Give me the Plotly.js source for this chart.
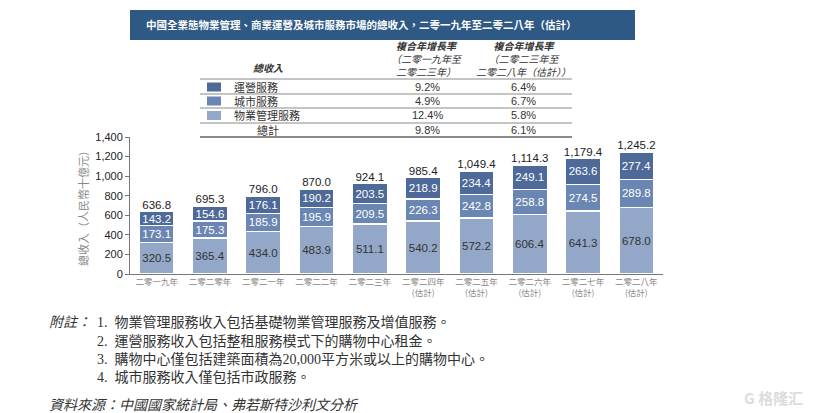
<!DOCTYPE html>
<html><head><meta charset="utf-8">
<script src="https://cdn.plot.ly/plotly-3.0.1.min.js"></script>
<style>body{margin:0;background:#fff}#c{width:831px;height:413px}</style>
</head><body><div id="c"></div>
<script>
const categories = ['二零一九年','二零二零年','二零二一年','二零二二年','二零二三年','二零二四年<br>(估計)','二零二五年<br>(估計)','二零二六年<br>(估計)','二零二七年<br>(估計)','二零二八年<br>(估計)'];
const propertyMgmt = [320.5,365.4,434.0,483.9,511.1,540.2,572.2,606.4,641.3,678.0];
const cityServices = [173.1,175.3,185.9,195.9,209.5,226.3,242.8,258.8,274.5,289.8];
const operations   = [143.2,154.6,176.1,190.2,203.5,218.9,234.4,249.1,263.6,277.4];
const totals       = [636.8,695.3,796.0,870.0,924.1,985.4,1049.4,1114.3,1179.4,1245.2];
const seriesNames  = ['運營服務','城市服務','物業管理服務','總計'];
const cagr1 = ['9.2%','4.9%','12.4%','9.8%'];
const cagr2 = ['6.4%','6.7%','5.8%','6.1%'];
const notes = ['1.  物業管理服務收入包括基礎物業管理服務及增值服務。','2.  運營服務收入包括整租服務模式下的購物中心租金。','3.  購物中心僅包括建築面積為20,000平方米或以上的購物中心。','4.  城市服務收入僅包括市政服務。'];

const C_TOP='#4d6a98', C_MID='#6a86b2', C_BOT='#93a8c8';
const PL=130, PR=663, PT=137, PB=274;
const px = x => (x-PL)/(PR-PL);
const py = y => (PB-y)/(PB-PT);
const SERIF = 'Liberation Serif, Noto Sans CJK TC';
const SANS = 'Liberation Sans, Arial, sans-serif';

const barCommon = {type:'bar', x:categories, textposition:'inside', insidetextanchor:'middle', textangle:0, constraintext:'none',
  texttemplate:'%{y:.1f}', hoverinfo:'none', showlegend:false, cliponaxis:false};
const traces = [
  Object.assign({}, barCommon, {name:seriesNames[2], y:propertyMgmt, marker:{color:C_BOT,line:{color:'#fff',width:1.5}}, textfont:{family:SANS,size:11.5,color:'#333'}}),
  Object.assign({}, barCommon, {name:seriesNames[1], y:cityServices, marker:{color:C_MID,line:{color:'#fff',width:1.5}}, textfont:{family:SANS,size:11.5,color:'#fff'}}),
  Object.assign({}, barCommon, {name:seriesNames[0], y:operations, marker:{color:C_TOP,line:{color:'#fff',width:1.5}}, textfont:{family:SANS,size:11.5,color:'#fff'}}),
  {type:'scatter', mode:'text', x:categories, y:totals, texttemplate:'%{y:,.1f}', textposition:'top center',
   textfont:{family:SANS,size:11.5,color:'#222'}, hoverinfo:'none', showlegend:false, cliponaxis:false}
];

const shapes = [], ann = [];
const A = (o) => ann.push(Object.assign({xref:'paper', yref:'paper', showarrow:false, xanchor:'center', yanchor:'middle'}, o));
// title bar
shapes.push({type:'rect', xref:'paper', yref:'paper', x0:px(130), x1:px(635), y0:py(40), y1:py(10), fillcolor:'#2e5984', line:{width:0}, layer:'below'});
A({x:px(144), y:py(25), xanchor:'left',
  text:'<b>中國全業態物業管理、商業運營及城市服務市場的總收入，二零一九年至二零二八年（估計）</b>', font:{family:SERIF,size:10.5,color:'#fff'}});
// table
const tl=200, tr=572;
[[79,1],[94,1],[108,1],[123,1],[137,2]].forEach(([y,w])=>shapes.push({type:'line',xref:'paper',yref:'paper',x0:px(tl),x1:px(tr),y0:py(y),y1:py(y),line:{color:'#8a8a8a',width:w}}));
A({x:px(268),y:py(69),text:'<b><i>總收入</i></b>',font:{family:SERIF,size:10,color:'#333'}});
A({x:px(427),y:py(59),text:'<b><i>複合年增長率</i></b><br><i>（二零一九年至<br>二零二三年）</i>',font:{family:SERIF,size:10,color:'#333'}});
A({x:px(523),y:py(59),text:'<b><i>複合年增長率</i></b><br><i>（二零二三年至<br>二零二八年（估計））</i>',font:{family:SERIF,size:10,color:'#333'}});
const rowY=[87,101,115.5,130], sw=[C_TOP,C_MID,C_BOT];
for(let i=0;i<4;i++){
  if(i<3){
    shapes.push({type:'rect',xref:'paper',yref:'paper',x0:px(207),x1:px(221),y0:py(rowY[i]+4.5),y1:py(rowY[i]-4.5),fillcolor:sw[i],line:{width:0}});
    A({x:px(232),y:py(rowY[i]),xanchor:'left',text:seriesNames[i],font:{family:SERIF,size:11,color:'#333'}});
  } else {
    A({x:px(268),y:py(rowY[i]),text:seriesNames[i],font:{family:SERIF,size:11,color:'#333'}});
  }
  A({x:px(427),y:py(rowY[i]),text:cagr1[i],font:{family:SANS,size:11,color:'#333'}});
  A({x:px(523),y:py(rowY[i]),text:cagr2[i],font:{family:SANS,size:11,color:'#333'}});
}
// notes
A({x:px(47),y:py(322),xanchor:'left',text:'<i>附註：</i>',font:{family:SERIF,size:14,color:'#333'}});
const noteY=[322,341,359,377];
notes.forEach((t,i)=>A({x:px(95),y:py(noteY[i]),xanchor:'left',text:t,font:{family:SERIF,size:14,color:'#333'}}));
A({x:px(47),y:py(405),xanchor:'left',text:'<i>資料來源：中國國家統計局、弗若斯特沙利文分析</i>',font:{family:SERIF,size:14,color:'#333'}});
// watermark
A({x:px(805),y:py(397),xanchor:'right',text:'<b>G 格隆汇</b>',font:{family:'Noto Sans CJK SC',size:15,color:'#dcdcdc'}});

const layout = {
  width:831, height:413, margin:{l:PL, r:831-PR, t:PT, b:413-PB, pad:0},
  paper_bgcolor:'#fff', plot_bgcolor:'#fff', barmode:'stack', bargap:0.34,
  uniformtext:{mode:'show', minsize:11.5},
  xaxis:{type:'category', showgrid:false, showline:true, linecolor:'#777', linewidth:1, ticks:'',
    tickfont:{family:'Noto Sans CJK TC',size:8.5,color:'#888'}, fixedrange:true, range:[-0.5,9.5]},
  yaxis:{range:[0,1400], dtick:200, tickformat:',d', showgrid:false, zeroline:false, showline:true, linecolor:'#777', linewidth:1,
    ticks:'outside', ticklen:4, tickcolor:'#777', tickfont:{family:SANS,size:11,color:'#222'},
    title:{text:'總收入（人民幣十億元）', font:{family:'Noto Sans CJK TC',size:11,color:'#888'}, standoff:4}},
  shapes:shapes, annotations:ann, font:{family:SANS}
};
Plotly.newPlot('c', traces, layout, {staticPlot:true, displayModeBar:false});
</script></body></html>
